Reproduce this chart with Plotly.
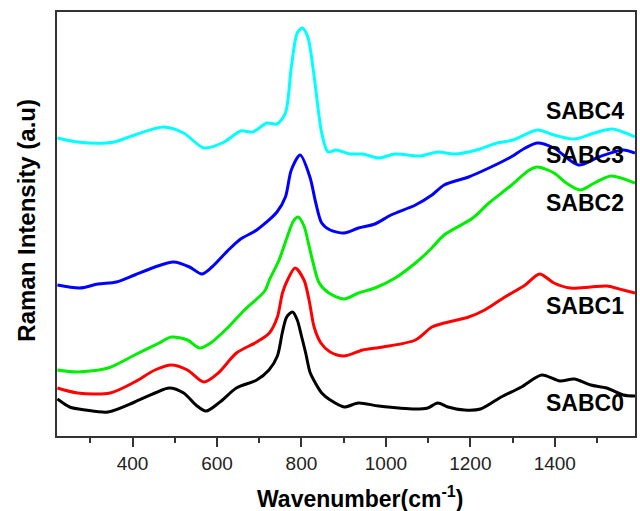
import plotly.graph_objects as go

# Wavenumber (cm^-1) and Raman intensity (a.u., offset-stacked) for each sample
wn_sabc4 = [222,270,338,357,405,473,521,569,617,656,685,718,742,762,776,790,802,815,829,848,863,882,916,945,983,1022,1080,1123,1162,1215,1263,1301,1359,1398,1446,1494,1537,1590]
int_sabc4 = [298,294,293,294,301,309,303,288,294,305,304,313,312,323,369,403,408,399,363,303,284,286,282,282,278,282,280,284,282,286,293,296,306,301,297,303,307,299]

wn_sabc3 = [222,275,318,362,405,453,497,535,564,588,627,656,694,742,762,776,797,820,834,848,868,901,935,974,1012,1070,1109,1138,1196,1244,1292,1330,1359,1398,1456,1504,1562,1590]
int_sabc3 = [151,148,152,154,161,169,174,169,162,169,186,197,206,224,239,266,281,259,233,213,206,203,208,212,221,231,241,251,259,268,278,288,293,288,271,279,286,283]

wn_sabc2 = [222,270,342,405,463,492,530,559,588,627,665,713,724,747,767,781,792,806,818,826,842,865,901,935,974,1022,1070,1104,1138,1206,1244,1292,1340,1359,1398,1427,1460,1494,1533,1590]
int_sabc2 = [66,64,68,81,93,99,96,88,94,109,126,145,156,176,200,215,219,210,190,176,153,143,137,143,148,158,173,186,201,218,233,249,266,269,263,253,246,253,260,253]

wn_sabc1 = [222,270,347,405,453,492,530,569,603,646,694,724,743,755,767,785,806,818,830,846,868,901,945,993,1070,1109,1138,1196,1234,1282,1330,1364,1398,1436,1485,1523,1562,1590]
int_sabc1 = [48,43,43,54,66,71,66,54,63,83,94,103,119,143,156,168,156,136,109,93,84,80,86,89,96,109,113,119,126,139,151,162,153,148,149,150,146,143]

wn_sabc0 = [222,251,289,342,405,453,487,521,550,574,607,646,694,723,743,755,765,779,790,800,810,820,829,848,868,901,935,983,1070,1099,1123,1147,1186,1224,1273,1321,1369,1412,1446,1485,1523,1562,1590]
int_sabc0 = [37,29,26,24,34,43,48,43,31,25,34,48,56,66,80,104,119,124,116,100,83,64,56,43,36,29,33,30,27,28,33,29,26,27,39,49,61,55,57,51,48,41,40]

series_names = ["SABC0", "SABC1", "SABC2", "SABC3", "SABC4"]
series_colors = ["#000000", "#ff0000", "#00ee00", "#0000ff", "#00ffff"]
series_x = [wn_sabc0, wn_sabc1, wn_sabc2, wn_sabc3, wn_sabc4]
series_y = [int_sabc0, int_sabc1, int_sabc2, int_sabc3, int_sabc4]
label_y = [33, 130, 233, 281, 325]

fig = go.Figure()
for name, col, xs, ys in zip(series_names, series_colors, series_x, series_y):
    fig.add_trace(go.Scatter(x=xs, y=ys, mode="lines", name=name,
                             line=dict(color=col, width=3, shape="spline", smoothing=0.8)))

for name, ly in zip(series_names, label_y):
    fig.add_annotation(x=0.985, xref="paper", y=ly, yref="y", text=f"<b>{name}</b>",
                       showarrow=False, xanchor="right", yanchor="middle",
                       font=dict(family="Liberation Sans, Arial", size=23, color="#000"))

fig.add_annotation(x=0.525, xref="paper", y=-0.145, yref="paper",
                   text="<b>Wavenumber(cm<sup>-1</sup>)</b>", showarrow=False,
                   xanchor="center", yanchor="middle",
                   font=dict(family="Liberation Sans, Arial", size=23, color="#000"))
fig.add_annotation(x=-0.052, xref="paper", y=0.51, yref="paper",
                   text="<b>Raman Intensity (a.u)</b>", showarrow=False, textangle=-90,
                   xanchor="center", yanchor="middle",
                   font=dict(family="Liberation Sans, Arial", size=24, color="#000"))

fig.update_layout(
    width=640, height=511,
    margin=dict(l=57, r=3, t=12, b=75),
    paper_bgcolor="white", plot_bgcolor="white",
    showlegend=False,
    font=dict(family="Liberation Sans, Arial", color="#222"),
)
fig.update_xaxes(range=[221, 1590], tick0=0, dtick=200, ticks="outside", ticklen=9,
                 tickwidth=1.5, tickcolor="#333", showline=True, linecolor="#333",
                 linewidth=1.5, mirror=True, showgrid=False, zeroline=False,
                 tickfont=dict(size=19, color="#222"),
                 minor=dict(dtick=100, tick0=0, ticks="outside", ticklen=5,
                            tickwidth=1.5, tickcolor="#333", showgrid=False))
fig.update_yaxes(range=[0, 424], showticklabels=False, ticks="", showline=True,
                 linecolor="#333", linewidth=1.5, mirror=True, showgrid=False,
                 zeroline=False)

fig.write_html("out.html")
